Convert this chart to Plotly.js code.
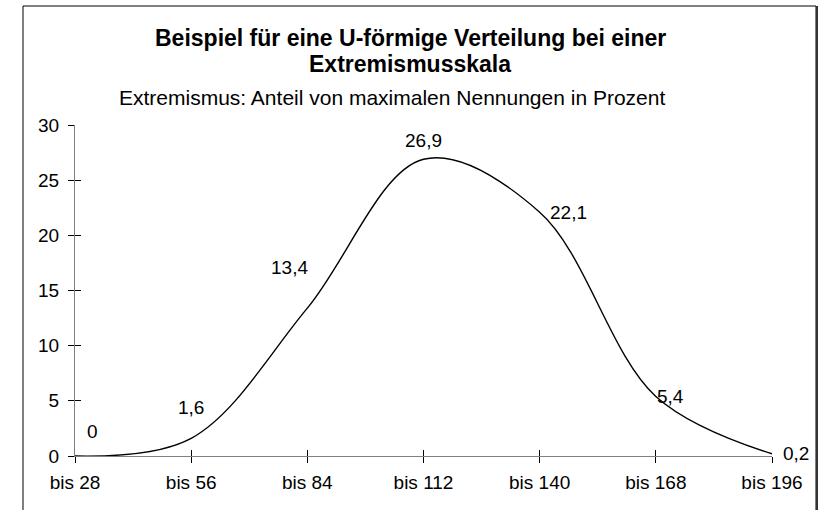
<!DOCTYPE html>
<html>
<head>
<meta charset="utf-8">
<script src="https://cdn.plot.ly/plotly-3.0.1.min.js"></script>
<style>
  html, body { margin: 0; padding: 0; background: #ffffff; }
  #chart { width: 820px; height: 510px; }
</style>
</head>
<body>
<div id="chart"></div>
<script>
// ---- data ----
const categories = ["bis 28", "bis 56", "bis 84", "bis 112", "bis 140", "bis 168", "bis 196"];
const values = [0, 1.6, 13.4, 26.9, 22.1, 5.4, 0.2];
const yTicks = [0, 5, 10, 15, 20, 25, 30];
const titleLines = ["Beispiel für eine U-förmige Verteilung bei einer", "Extremismusskala"];
const subtitleText = "Extremismus: Anteil von maximalen Nennungen in Prozent";

// ---- label placement (style only, pixel offsets) ----
const labelShiftX = [17, 0, -18, 0, 29, 15, 24];
const labelShiftY = [25, 31, 41, 19, 0, 0, 0];

const FONT = "Liberation Sans, Arial, sans-serif";
const fmt = v => String(v).replace(".", ",");

// plot area in pixels (for paper-coordinate conversion)
const L = 75, R = 772, T = 125, B = 456;
const px = x => (x - L) / (R - L);
const py = y => (B - y) / (B - T);

const labelAnnotations = categories.map((c, i) => ({
  x: c, y: values[i], xref: "x", yref: "y",
  text: fmt(values[i]), showarrow: false,
  xshift: labelShiftX[i], yshift: labelShiftY[i],
  font: { family: FONT, size: 19, color: "#000" }
}));

const titleAnnotations = titleLines.map((t, i) => ({
  text: "<b>" + t + "</b>", showarrow: false,
  xref: "paper", yref: "paper",
  x: px(410), y: py(i === 0 ? 38 : 64),
  xanchor: "center", yanchor: "middle",
  font: { family: FONT, size: 23, color: "#000" }
}));

const traces = [
  {
    x: categories, y: values, type: "scatter", mode: "lines",
    line: { color: "#000", width: 1.4, shape: "spline", smoothing: 1 },
    hoverinfo: "skip", showlegend: false
  },
  {
    x: categories, y: values, type: "scatter", mode: "lines",
    xaxis: "x2", yaxis: "y2", opacity: 0,
    line: { width: 0 }, hoverinfo: "skip", showlegend: false
  }
];

const axisFont = { family: FONT, size: 19, color: "#000" };

const layout = {
  width: 820, height: 510,
  paper_bgcolor: "#fff", plot_bgcolor: "#fff",
  margin: { l: L, r: 820 - R, t: T, b: 510 - B, pad: 0 },
  showlegend: false,
  font: { family: FONT, color: "#000" },
  xaxis: {
    type: "category", range: [0, categories.length - 1],
    showline: true, linecolor: "#808080", linewidth: 1,
    ticks: "outside", ticklen: 6, tickcolor: "#000", tickwidth: 1,
    showgrid: false, zeroline: false, tickfont: axisFont,
    ticklabelstandoff: 3, fixedrange: true
  },
  yaxis: {
    range: [0, 30], tickvals: yTicks,
    showline: true, linecolor: "#808080", linewidth: 1,
    ticks: "outside", ticklen: 6, tickcolor: "#000", tickwidth: 1,
    showgrid: false, zeroline: false, tickfont: axisFont,
    ticklabelstandoff: 5, fixedrange: true
  },
  xaxis2: {
    type: "category", overlaying: "x", matches: "x", anchor: "y2",
    range: [0, categories.length - 1],
    ticks: "inside", ticklen: 6, tickcolor: "#000", tickwidth: 1,
    showticklabels: false, showline: false, showgrid: false, zeroline: false
  },
  yaxis2: {
    overlaying: "y", matches: "y", anchor: "x2", side: "left",
    range: [0, 30], tickvals: yTicks,
    ticks: "inside", ticklen: 6, tickcolor: "#000", tickwidth: 1,
    showticklabels: false, showline: false, showgrid: false, zeroline: false
  },
  annotations: titleAnnotations.concat([
    {
      text: subtitleText, showarrow: false,
      xref: "paper", yref: "paper",
      x: px(392), y: py(98),
      xanchor: "center", yanchor: "middle",
      font: { family: FONT, size: 21, color: "#000" }
    }
  ]).concat(labelAnnotations),
  shapes: [
    {
      type: "rect", xref: "paper", yref: "paper",
      x0: px(23), x1: px(816), y0: py(520), y1: py(6),
      line: { color: "#000", width: 1 }
    },
    {
      type: "line", xref: "paper", yref: "paper",
      x0: px(817), x1: px(817), y0: py(520), y1: py(6),
      line: { color: "#333", width: 2 }
    }
  ]
};

Plotly.newPlot("chart", traces, layout, { staticPlot: true, displayModeBar: false });
</script>
</body>
</html>
